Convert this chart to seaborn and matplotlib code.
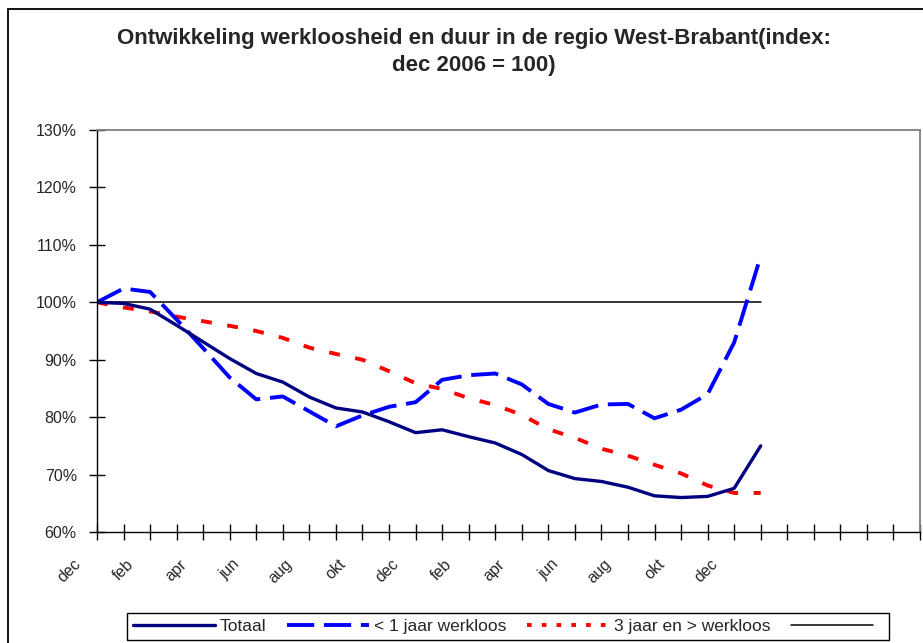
import matplotlib
matplotlib.use("Agg")
import matplotlib.pyplot as plt
import matplotlib.transforms as mtransforms
from matplotlib.patches import Rectangle
from matplotlib.lines import Line2D
import seaborn as sns
import pandas as pd

# maanden dec 2006 .. jan 2009 (26 punten), daarna lege categorieen tot 32
maanden = ["dec", "jan", "feb", "mrt", "apr", "mei", "jun", "jul", "aug", "sep", "okt", "nov",
           "dec", "jan", "feb", "mrt", "apr", "mei", "jun", "jul", "aug", "sep", "okt", "nov",
           "dec", "jan"]
n_categorieen = 32

totaal = [100, 99.8, 98.8, 96.0, 93.1, 90.2, 87.6, 86.1, 83.5, 81.6, 80.9, 79.2, 77.3,
          77.8, 76.6, 75.5, 73.5, 70.7, 69.3, 68.8, 67.8, 66.3, 66.0, 66.2, 67.6, 75.0]
kort = [100, 102.4, 101.8, 97.0, 92.0, 86.9, 83.1, 83.6, 81.0, 78.4, 80.3, 81.8, 82.6,
        86.5, 87.3, 87.6, 85.7, 82.3, 80.8, 82.2, 82.3, 79.8, 81.3, 84.0, 93.0, 108.0]
lang = [100, 99.1, 98.4, 97.5, 96.7, 95.9, 95.0, 93.8, 92.1, 91.0, 90.0, 88.0, 85.9,
        84.9, 83.3, 82.1, 80.4, 77.9, 76.4, 74.5, 73.3, 71.7, 70.2, 68.1, 66.8, 66.8]
basis = [100] * len(maanden)

labels = ["Totaal", "< 1 jaar werkloos", "3 jaar en > werkloos", " "]

sns.set_style("white")
plt.rcParams["font.family"] = ["Liberation Sans", "DejaVu Sans"]

W, H = 923, 643
fig = plt.figure(figsize=(W / 100, H / 100), dpi=100)
ax = fig.add_axes([97 / W, 1 - 532 / H, (920 - 97) / W, (532 - 130) / H])

pos = list(range(len(maanden)))
df = pd.DataFrame({"pos": pos, "totaal": totaal, "kort": kort, "lang": lang, "basis": basis})

sns.lineplot(data=df, x="pos", y="basis", ax=ax, color="black", lw=1.1)
sns.lineplot(data=df, x="pos", y="lang", ax=ax, color="#FF0000", lw=2.8)
ax.lines[-1].set_dashes((2.8, 4.0))
sns.lineplot(data=df, x="pos", y="kort", ax=ax, color="#0000FF", lw=2.8)
ax.lines[-1].set_dashes((7, 2.5))
sns.lineplot(data=df, x="pos", y="totaal", ax=ax, color="#000080", lw=2.4)

ax.set_xlim(0, n_categorieen - 1)
ax.set_ylim(60, 130)
ax.set_yticks(range(60, 131, 10))
ax.set_yticklabels([f"{v}%" for v in range(60, 131, 10)], fontsize=11.5)
ax.set_xticks(range(n_categorieen))
xlab = [m if (i % 2 == 0) else "" for i, m in enumerate(maanden)] + [""] * (n_categorieen - len(maanden))
ax.set_xticklabels(xlab, fontsize=11.5, rotation=45, ha="right", va="center", rotation_mode="anchor")
ax.set_xlabel("")
ax.set_ylabel("")
ax.tick_params(axis="both", direction="inout", length=11, width=1, color="black",
               bottom=True, left=True)
ax.tick_params(axis="y", pad=9)
ax.tick_params(axis="x", pad=16)
shift = mtransforms.ScaledTranslation(-0.19, 0, fig.dpi_scale_trans)
for t in ax.get_xticklabels():
    t.set_transform(t.get_transform() + shift)

for s in ["top", "right"]:
    ax.spines[s].set_color("#808080")
    ax.spines[s].set_linewidth(1.3)
for s in ["left", "bottom"]:
    ax.spines[s].set_color("black")
    ax.spines[s].set_linewidth(1.0)

fig.text(474 / W, 1 - 52 / H,
         "Ontwikkeling werkloosheid en duur in de regio West-Brabant(index:\ndec 2006 = 100)",
         ha="center", va="center", fontsize=16, fontweight="bold", linespacing=1.32)

handles = [
    Line2D([], [], color="#000080", lw=2.4),
    Line2D([], [], color="#0000FF", lw=2.8, dashes=(7, 2.5)),
    Line2D([], [], color="#FF0000", lw=2.8, dashes=(1.2, 2.6)),
    Line2D([], [], color="black", lw=1.1),
]
leg = fig.legend(handles, labels, loc="upper left", bbox_to_anchor=(127 / W, 1 - 613 / H),
                 bbox_transform=fig.transFigure, ncol=4, fontsize=12.5, frameon=True,
                 fancybox=False, framealpha=1, edgecolor="black", borderaxespad=0,
                 handlelength=4.7, handletextpad=0.3, columnspacing=1.2, borderpad=0.35)
leg.get_frame().set_linewidth(1.0)

fig.add_artist(Rectangle((8 / W, -0.2), 2, 1.2 - 9 / H, transform=fig.transFigure,
                         fill=False, edgecolor="black", lw=1.3))

plt.savefig("out.png", dpi=100)
